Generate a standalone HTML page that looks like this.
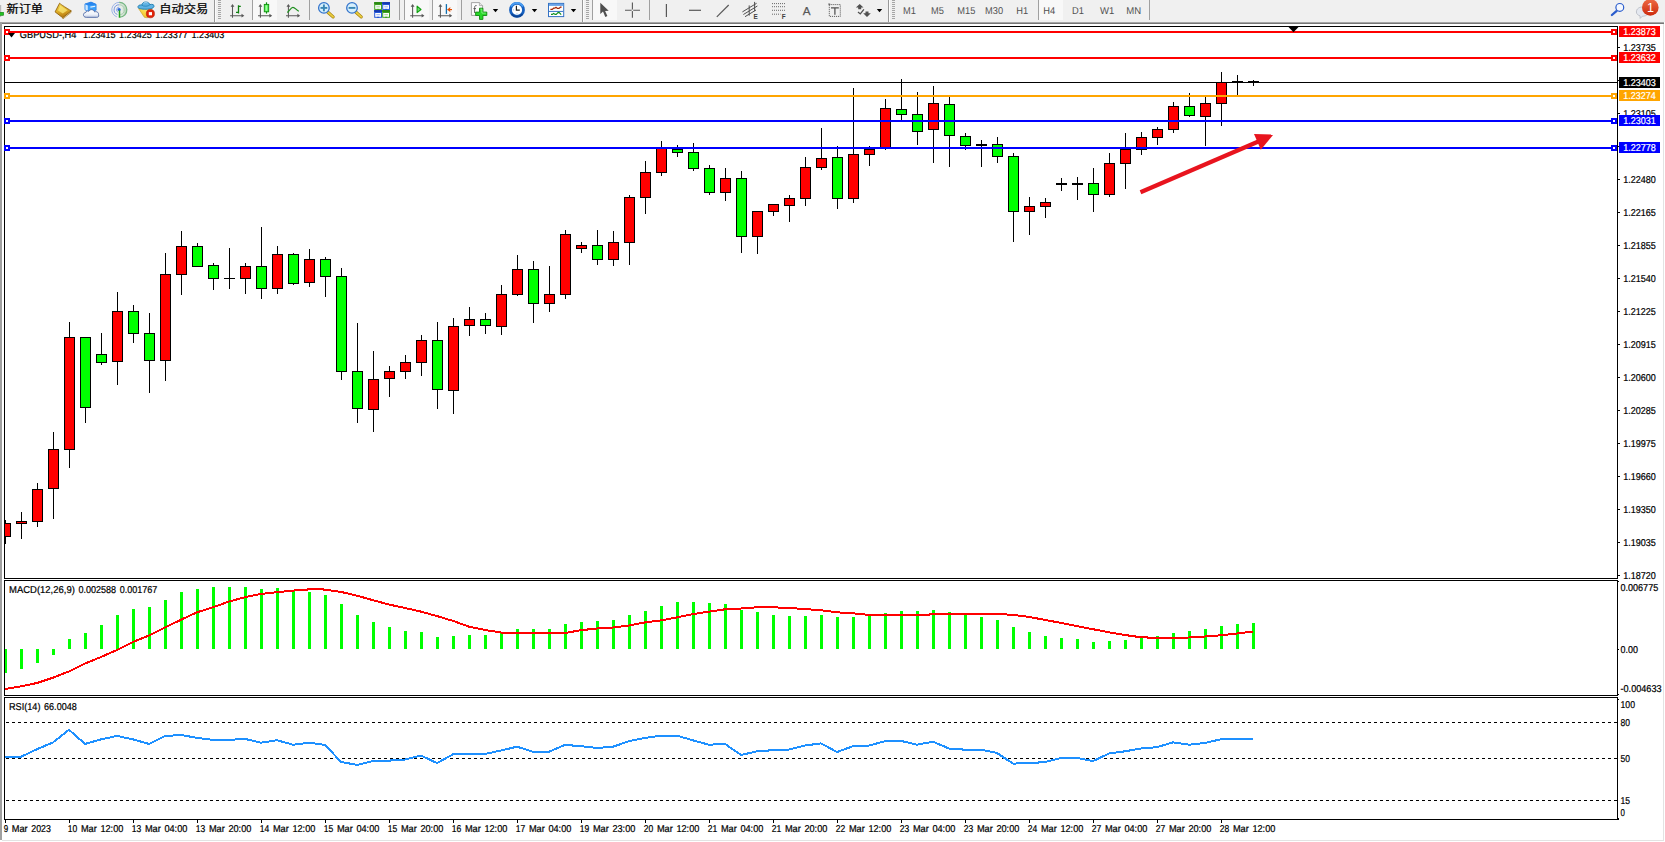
<!DOCTYPE html>
<html lang="zh"><head><meta charset="utf-8"><title>GBPUSD H4</title>
<style>
html,body{margin:0;padding:0;background:#fff;}
body{width:1665px;height:842px;overflow:hidden;position:relative;font-family:"Liberation Sans","Noto Sans CJK SC",sans-serif;}
svg{position:absolute;left:0;top:0;display:block}
.t{font-family:"Liberation Sans",sans-serif;font-size:10.0px;fill:#000;stroke:#000;stroke-width:0.22px;text-rendering:geometricPrecision}
.w{fill:#fff;stroke:#fff}
.cj{font-family:"Liberation Sans","Noto Sans CJK SC",sans-serif;font-size:12px;fill:#000;stroke:#000;stroke-width:0.25px}
.tf{font-family:"Liberation Sans",sans-serif;font-size:10px;fill:#505050;text-rendering:geometricPrecision}
</style></head><body>
<svg width="1665" height="842" viewBox="0 0 1665 842">
<defs><linearGradient id="gb" x1="0" y1="0" x2="0" y2="1"><stop offset="0" stop-color="#ee6a44"/><stop offset="1" stop-color="#cc2a0c"/></linearGradient>
<linearGradient id="gbook" x1="0" y1="0" x2="0.3" y2="1"><stop offset="0" stop-color="#f6de54"/><stop offset="0.55" stop-color="#e0b028"/><stop offset="1" stop-color="#b87c14"/></linearGradient><linearGradient id="gcloud" x1="0" y1="0" x2="0" y2="1"><stop offset="0" stop-color="#ffffff"/><stop offset="0.6" stop-color="#eef2fa"/><stop offset="1" stop-color="#c4cee4"/></linearGradient><linearGradient id="gyel" x1="1" y1="0" x2="0" y2="1"><stop offset="0" stop-color="#fff08a"/><stop offset="0.6" stop-color="#f6d23a"/><stop offset="1" stop-color="#dca020"/></linearGradient><radialGradient id="gsig" cx="0.1" cy="0.5" r="0.95"><stop offset="0" stop-color="#e8f0f0" stop-opacity="0.3"/><stop offset="0.55" stop-color="#c4dcc4" stop-opacity="0.6"/><stop offset="1" stop-color="#7cbc84" stop-opacity="0.85"/></radialGradient><linearGradient id="gbar" x1="0" y1="0" x2="0" y2="1"><stop offset="0" stop-color="#c8c8c8"/><stop offset="0.5" stop-color="#7c7c7c"/><stop offset="1" stop-color="#9a9a9a"/></linearGradient></defs>
<rect x="0" y="0" width="1665" height="842" fill="#fff"/>
<rect x="0" y="0" width="1665" height="22" fill="#f0f0f0"/>
<g shape-rendering="crispEdges">
<rect x="0" y="22" width="1664" height="1" fill="#a6a6a6"/><rect x="0" y="23" width="1664" height="1" fill="#767676"/>
<rect x="0" y="22" width="2" height="818" fill="#a0a0a0"/>
<rect x="1663" y="24" width="1" height="817" fill="#e3e3e3"/>
<rect x="2" y="840" width="1662" height="1" fill="#e3e3e3"/>
<rect x="4" y="26" width="1614" height="1" fill="#000"/>
<rect x="4" y="578" width="1614" height="1" fill="#000"/>
<rect x="4" y="26" width="1" height="553" fill="#000"/>
<rect x="1617" y="26" width="1" height="553" fill="#000"/>
<rect x="4" y="580" width="1614" height="1" fill="#000"/>
<rect x="4" y="695" width="1614" height="1" fill="#000"/>
<rect x="4" y="580" width="1" height="116" fill="#000"/>
<rect x="1617" y="580" width="1" height="116" fill="#000"/>
<rect x="4" y="697" width="1614" height="1" fill="#000"/>
<rect x="4" y="819" width="1615" height="1" fill="#000"/>
<rect x="4" y="697" width="1" height="123" fill="#000"/>
<rect x="1617" y="697" width="1" height="123" fill="#000"/>
</g>
<g shape-rendering="crispEdges">
<rect x="5" y="520" width="1" height="24" fill="#000"/>
<rect x="5" y="523" width="6" height="14" fill="#000"/>
<rect x="5" y="524" width="5" height="12" fill="#ff0000"/>
<rect x="21" y="512" width="1" height="27" fill="#000"/>
<rect x="16" y="521" width="11" height="3" fill="#000"/>
<rect x="17" y="522" width="9" height="1" fill="#ff0000"/>
<rect x="37" y="483" width="1" height="44" fill="#000"/>
<rect x="32" y="489" width="11" height="33" fill="#000"/>
<rect x="33" y="490" width="9" height="31" fill="#ff0000"/>
<rect x="53" y="432" width="1" height="87" fill="#000"/>
<rect x="48" y="449" width="11" height="40" fill="#000"/>
<rect x="49" y="450" width="9" height="38" fill="#ff0000"/>
<rect x="69" y="322" width="1" height="146" fill="#000"/>
<rect x="64" y="337" width="11" height="113" fill="#000"/>
<rect x="65" y="338" width="9" height="111" fill="#ff0000"/>
<rect x="85" y="337" width="1" height="86" fill="#000"/>
<rect x="80" y="337" width="11" height="71" fill="#000"/>
<rect x="81" y="338" width="9" height="69" fill="#00ff00"/>
<rect x="101" y="333" width="1" height="32" fill="#000"/>
<rect x="96" y="354" width="11" height="9" fill="#000"/>
<rect x="97" y="355" width="9" height="7" fill="#00ff00"/>
<rect x="117" y="292" width="1" height="93" fill="#000"/>
<rect x="112" y="311" width="11" height="51" fill="#000"/>
<rect x="113" y="312" width="9" height="49" fill="#ff0000"/>
<rect x="133" y="305" width="1" height="38" fill="#000"/>
<rect x="128" y="311" width="11" height="23" fill="#000"/>
<rect x="129" y="312" width="9" height="21" fill="#00ff00"/>
<rect x="149" y="313" width="1" height="80" fill="#000"/>
<rect x="144" y="333" width="11" height="28" fill="#000"/>
<rect x="145" y="334" width="9" height="26" fill="#00ff00"/>
<rect x="165" y="253" width="1" height="128" fill="#000"/>
<rect x="160" y="274" width="11" height="87" fill="#000"/>
<rect x="161" y="275" width="9" height="85" fill="#ff0000"/>
<rect x="181" y="231" width="1" height="64" fill="#000"/>
<rect x="176" y="246" width="11" height="29" fill="#000"/>
<rect x="177" y="247" width="9" height="27" fill="#ff0000"/>
<rect x="197" y="243" width="1" height="24" fill="#000"/>
<rect x="192" y="246" width="11" height="21" fill="#000"/>
<rect x="193" y="247" width="9" height="19" fill="#00ff00"/>
<rect x="213" y="263" width="1" height="27" fill="#000"/>
<rect x="208" y="265" width="11" height="14" fill="#000"/>
<rect x="209" y="266" width="9" height="12" fill="#00ff00"/>
<rect x="229" y="248" width="1" height="41" fill="#000"/>
<rect x="224" y="278" width="11" height="1" fill="#000"/>
<rect x="245" y="263" width="1" height="31" fill="#000"/>
<rect x="240" y="266" width="11" height="13" fill="#000"/>
<rect x="241" y="267" width="9" height="11" fill="#ff0000"/>
<rect x="261" y="227" width="1" height="72" fill="#000"/>
<rect x="256" y="266" width="11" height="23" fill="#000"/>
<rect x="257" y="267" width="9" height="21" fill="#00ff00"/>
<rect x="277" y="246" width="1" height="48" fill="#000"/>
<rect x="272" y="254" width="11" height="35" fill="#000"/>
<rect x="273" y="255" width="9" height="33" fill="#ff0000"/>
<rect x="293" y="253" width="1" height="32" fill="#000"/>
<rect x="288" y="254" width="11" height="30" fill="#000"/>
<rect x="289" y="255" width="9" height="28" fill="#00ff00"/>
<rect x="309" y="249" width="1" height="38" fill="#000"/>
<rect x="304" y="259" width="11" height="24" fill="#000"/>
<rect x="305" y="260" width="9" height="22" fill="#ff0000"/>
<rect x="325" y="257" width="1" height="40" fill="#000"/>
<rect x="320" y="259" width="11" height="18" fill="#000"/>
<rect x="321" y="260" width="9" height="16" fill="#00ff00"/>
<rect x="341" y="268" width="1" height="112" fill="#000"/>
<rect x="336" y="276" width="11" height="96" fill="#000"/>
<rect x="337" y="277" width="9" height="94" fill="#00ff00"/>
<rect x="357" y="323" width="1" height="100" fill="#000"/>
<rect x="352" y="371" width="11" height="38" fill="#000"/>
<rect x="353" y="372" width="9" height="36" fill="#00ff00"/>
<rect x="373" y="351" width="1" height="81" fill="#000"/>
<rect x="368" y="379" width="11" height="31" fill="#000"/>
<rect x="369" y="380" width="9" height="29" fill="#ff0000"/>
<rect x="389" y="366" width="1" height="31" fill="#000"/>
<rect x="384" y="371" width="11" height="8" fill="#000"/>
<rect x="385" y="372" width="9" height="6" fill="#ff0000"/>
<rect x="405" y="355" width="1" height="24" fill="#000"/>
<rect x="400" y="362" width="11" height="10" fill="#000"/>
<rect x="401" y="363" width="9" height="8" fill="#ff0000"/>
<rect x="421" y="335" width="1" height="41" fill="#000"/>
<rect x="416" y="340" width="11" height="23" fill="#000"/>
<rect x="417" y="341" width="9" height="21" fill="#ff0000"/>
<rect x="437" y="322" width="1" height="87" fill="#000"/>
<rect x="432" y="340" width="11" height="50" fill="#000"/>
<rect x="433" y="341" width="9" height="48" fill="#00ff00"/>
<rect x="453" y="318" width="1" height="96" fill="#000"/>
<rect x="448" y="326" width="11" height="65" fill="#000"/>
<rect x="449" y="327" width="9" height="63" fill="#ff0000"/>
<rect x="469" y="307" width="1" height="29" fill="#000"/>
<rect x="464" y="319" width="11" height="7" fill="#000"/>
<rect x="465" y="320" width="9" height="5" fill="#ff0000"/>
<rect x="485" y="313" width="1" height="21" fill="#000"/>
<rect x="480" y="319" width="11" height="7" fill="#000"/>
<rect x="481" y="320" width="9" height="5" fill="#00ff00"/>
<rect x="501" y="285" width="1" height="50" fill="#000"/>
<rect x="496" y="294" width="11" height="33" fill="#000"/>
<rect x="497" y="295" width="9" height="31" fill="#ff0000"/>
<rect x="517" y="255" width="1" height="41" fill="#000"/>
<rect x="512" y="269" width="11" height="26" fill="#000"/>
<rect x="513" y="270" width="9" height="24" fill="#ff0000"/>
<rect x="533" y="261" width="1" height="62" fill="#000"/>
<rect x="528" y="269" width="11" height="35" fill="#000"/>
<rect x="529" y="270" width="9" height="33" fill="#00ff00"/>
<rect x="549" y="266" width="1" height="46" fill="#000"/>
<rect x="544" y="294" width="11" height="10" fill="#000"/>
<rect x="545" y="295" width="9" height="8" fill="#ff0000"/>
<rect x="565" y="230" width="1" height="69" fill="#000"/>
<rect x="560" y="234" width="11" height="61" fill="#000"/>
<rect x="561" y="235" width="9" height="59" fill="#ff0000"/>
<rect x="581" y="242" width="1" height="11" fill="#000"/>
<rect x="576" y="245" width="11" height="4" fill="#000"/>
<rect x="577" y="246" width="9" height="2" fill="#ff0000"/>
<rect x="597" y="230" width="1" height="35" fill="#000"/>
<rect x="592" y="245" width="11" height="15" fill="#000"/>
<rect x="593" y="246" width="9" height="13" fill="#00ff00"/>
<rect x="613" y="231" width="1" height="35" fill="#000"/>
<rect x="608" y="242" width="11" height="18" fill="#000"/>
<rect x="609" y="243" width="9" height="16" fill="#ff0000"/>
<rect x="629" y="195" width="1" height="70" fill="#000"/>
<rect x="624" y="197" width="11" height="46" fill="#000"/>
<rect x="625" y="198" width="9" height="44" fill="#ff0000"/>
<rect x="645" y="161" width="1" height="53" fill="#000"/>
<rect x="640" y="172" width="11" height="26" fill="#000"/>
<rect x="641" y="173" width="9" height="24" fill="#ff0000"/>
<rect x="661" y="141" width="1" height="35" fill="#000"/>
<rect x="656" y="148" width="11" height="25" fill="#000"/>
<rect x="657" y="149" width="9" height="23" fill="#ff0000"/>
<rect x="677" y="145" width="1" height="12" fill="#000"/>
<rect x="672" y="149" width="11" height="4" fill="#000"/>
<rect x="673" y="150" width="9" height="2" fill="#00ff00"/>
<rect x="693" y="143" width="1" height="28" fill="#000"/>
<rect x="688" y="152" width="11" height="17" fill="#000"/>
<rect x="689" y="153" width="9" height="15" fill="#00ff00"/>
<rect x="709" y="165" width="1" height="30" fill="#000"/>
<rect x="704" y="168" width="11" height="25" fill="#000"/>
<rect x="705" y="169" width="9" height="23" fill="#00ff00"/>
<rect x="725" y="168" width="1" height="33" fill="#000"/>
<rect x="720" y="178" width="11" height="15" fill="#000"/>
<rect x="721" y="179" width="9" height="13" fill="#ff0000"/>
<rect x="741" y="171" width="1" height="82" fill="#000"/>
<rect x="736" y="178" width="11" height="59" fill="#000"/>
<rect x="737" y="179" width="9" height="57" fill="#00ff00"/>
<rect x="757" y="212" width="1" height="42" fill="#000"/>
<rect x="752" y="211" width="11" height="26" fill="#000"/>
<rect x="753" y="212" width="9" height="24" fill="#ff0000"/>
<rect x="773" y="204" width="1" height="12" fill="#000"/>
<rect x="768" y="204" width="11" height="8" fill="#000"/>
<rect x="769" y="205" width="9" height="6" fill="#ff0000"/>
<rect x="789" y="195" width="1" height="27" fill="#000"/>
<rect x="784" y="198" width="11" height="8" fill="#000"/>
<rect x="785" y="199" width="9" height="6" fill="#ff0000"/>
<rect x="805" y="157" width="1" height="49" fill="#000"/>
<rect x="800" y="167" width="11" height="32" fill="#000"/>
<rect x="801" y="168" width="9" height="30" fill="#ff0000"/>
<rect x="821" y="128" width="1" height="42" fill="#000"/>
<rect x="816" y="158" width="11" height="10" fill="#000"/>
<rect x="817" y="159" width="9" height="8" fill="#ff0000"/>
<rect x="837" y="146" width="1" height="63" fill="#000"/>
<rect x="832" y="157" width="11" height="42" fill="#000"/>
<rect x="833" y="158" width="9" height="40" fill="#00ff00"/>
<rect x="853" y="88" width="1" height="115" fill="#000"/>
<rect x="848" y="154" width="11" height="45" fill="#000"/>
<rect x="849" y="155" width="9" height="43" fill="#ff0000"/>
<rect x="869" y="146" width="1" height="20" fill="#000"/>
<rect x="864" y="149" width="11" height="6" fill="#000"/>
<rect x="865" y="150" width="9" height="4" fill="#ff0000"/>
<rect x="885" y="99" width="1" height="51" fill="#000"/>
<rect x="880" y="108" width="11" height="40" fill="#000"/>
<rect x="881" y="109" width="9" height="38" fill="#ff0000"/>
<rect x="901" y="79" width="1" height="41" fill="#000"/>
<rect x="896" y="109" width="11" height="6" fill="#000"/>
<rect x="897" y="110" width="9" height="4" fill="#00ff00"/>
<rect x="917" y="92" width="1" height="53" fill="#000"/>
<rect x="912" y="114" width="11" height="18" fill="#000"/>
<rect x="913" y="115" width="9" height="16" fill="#00ff00"/>
<rect x="933" y="86" width="1" height="77" fill="#000"/>
<rect x="928" y="103" width="11" height="27" fill="#000"/>
<rect x="929" y="104" width="9" height="25" fill="#ff0000"/>
<rect x="949" y="97" width="1" height="70" fill="#000"/>
<rect x="944" y="104" width="11" height="32" fill="#000"/>
<rect x="945" y="105" width="9" height="30" fill="#00ff00"/>
<rect x="965" y="133" width="1" height="17" fill="#000"/>
<rect x="960" y="136" width="11" height="10" fill="#000"/>
<rect x="961" y="137" width="9" height="8" fill="#00ff00"/>
<rect x="981" y="140" width="1" height="27" fill="#000"/>
<rect x="976" y="144" width="11" height="2" fill="#000"/>
<rect x="997" y="137" width="1" height="26" fill="#000"/>
<rect x="992" y="144" width="11" height="13" fill="#000"/>
<rect x="993" y="145" width="9" height="11" fill="#00ff00"/>
<rect x="1013" y="153" width="1" height="89" fill="#000"/>
<rect x="1008" y="156" width="11" height="56" fill="#000"/>
<rect x="1009" y="157" width="9" height="54" fill="#00ff00"/>
<rect x="1029" y="197" width="1" height="38" fill="#000"/>
<rect x="1024" y="206" width="11" height="6" fill="#000"/>
<rect x="1025" y="207" width="9" height="4" fill="#ff0000"/>
<rect x="1045" y="198" width="1" height="20" fill="#000"/>
<rect x="1040" y="202" width="11" height="5" fill="#000"/>
<rect x="1041" y="203" width="9" height="3" fill="#ff0000"/>
<rect x="1061" y="178" width="1" height="13" fill="#000"/>
<rect x="1056" y="183" width="11" height="2" fill="#000"/>
<rect x="1077" y="177" width="1" height="23" fill="#000"/>
<rect x="1072" y="183" width="11" height="2" fill="#000"/>
<rect x="1093" y="168" width="1" height="44" fill="#000"/>
<rect x="1088" y="183" width="11" height="12" fill="#000"/>
<rect x="1089" y="184" width="9" height="10" fill="#00ff00"/>
<rect x="1109" y="153" width="1" height="44" fill="#000"/>
<rect x="1104" y="163" width="11" height="32" fill="#000"/>
<rect x="1105" y="164" width="9" height="30" fill="#ff0000"/>
<rect x="1125" y="133" width="1" height="56" fill="#000"/>
<rect x="1120" y="149" width="11" height="15" fill="#000"/>
<rect x="1121" y="150" width="9" height="13" fill="#ff0000"/>
<rect x="1141" y="132" width="1" height="23" fill="#000"/>
<rect x="1136" y="137" width="11" height="13" fill="#000"/>
<rect x="1137" y="138" width="9" height="11" fill="#ff0000"/>
<rect x="1157" y="127" width="1" height="18" fill="#000"/>
<rect x="1152" y="129" width="11" height="9" fill="#000"/>
<rect x="1153" y="130" width="9" height="7" fill="#ff0000"/>
<rect x="1173" y="102" width="1" height="31" fill="#000"/>
<rect x="1168" y="106" width="11" height="24" fill="#000"/>
<rect x="1169" y="107" width="9" height="22" fill="#ff0000"/>
<rect x="1189" y="93" width="1" height="24" fill="#000"/>
<rect x="1184" y="106" width="11" height="10" fill="#000"/>
<rect x="1185" y="107" width="9" height="8" fill="#00ff00"/>
<rect x="1205" y="97" width="1" height="49" fill="#000"/>
<rect x="1200" y="103" width="11" height="14" fill="#000"/>
<rect x="1201" y="104" width="9" height="12" fill="#ff0000"/>
<rect x="1221" y="72" width="1" height="54" fill="#000"/>
<rect x="1216" y="82" width="11" height="22" fill="#000"/>
<rect x="1217" y="83" width="9" height="20" fill="#ff0000"/>
<rect x="1237" y="75" width="1" height="20" fill="#000"/>
<rect x="1232" y="81" width="11" height="1" fill="#000"/>
<rect x="1253" y="80" width="1" height="6" fill="#000"/>
<rect x="1248" y="81" width="11" height="1" fill="#000"/>
</g>
<text x="19.8" y="37.6" class="t" textLength="56.6" lengthAdjust="spacingAndGlyphs" >GBPUSD-,H4</text>
<text x="82.9" y="37.6" class="t" textLength="32.6" lengthAdjust="spacingAndGlyphs" >1.23415</text>
<text x="119.1" y="37.6" class="t" textLength="32.6" lengthAdjust="spacingAndGlyphs" >1.23425</text>
<text x="155.3" y="37.6" class="t" textLength="32.6" lengthAdjust="spacingAndGlyphs" >1.23377</text>
<text x="191.6" y="37.6" class="t" textLength="32.6" lengthAdjust="spacingAndGlyphs" >1.23403</text>
<g shape-rendering="crispEdges">
<rect x="5" y="31" width="1612" height="2" fill="#ff0000"/>
<rect x="4" y="29" width="6" height="6" fill="#ff0000"/>
<rect x="6" y="31" width="2" height="2" fill="#fff"/>
<rect x="1611" y="29" width="6" height="6" fill="#ff0000"/>
<rect x="1613" y="31" width="2" height="2" fill="#fff"/>
<rect x="5" y="57" width="1612" height="2" fill="#ff0000"/>
<rect x="4" y="55" width="6" height="6" fill="#ff0000"/>
<rect x="6" y="57" width="2" height="2" fill="#fff"/>
<rect x="1611" y="55" width="6" height="6" fill="#ff0000"/>
<rect x="1613" y="57" width="2" height="2" fill="#fff"/>
<rect x="5" y="82" width="1612" height="1" fill="#000000"/>
<rect x="5" y="95" width="1612" height="2" fill="#ffa500"/>
<rect x="4" y="93" width="6" height="6" fill="#ffa500"/>
<rect x="6" y="95" width="2" height="2" fill="#fff"/>
<rect x="1611" y="93" width="6" height="6" fill="#ffa500"/>
<rect x="1613" y="95" width="2" height="2" fill="#fff"/>
<rect x="5" y="120" width="1612" height="2" fill="#0000ff"/>
<rect x="4" y="118" width="6" height="6" fill="#0000ff"/>
<rect x="6" y="120" width="2" height="2" fill="#fff"/>
<rect x="1611" y="118" width="6" height="6" fill="#0000ff"/>
<rect x="1613" y="120" width="2" height="2" fill="#fff"/>
<rect x="5" y="147" width="1612" height="2" fill="#0000ff"/>
<rect x="4" y="145" width="6" height="6" fill="#0000ff"/>
<rect x="6" y="147" width="2" height="2" fill="#fff"/>
<rect x="1611" y="145" width="6" height="6" fill="#0000ff"/>
<rect x="1613" y="147" width="2" height="2" fill="#fff"/>
</g>
<line x1="1140.5" y1="192.3" x2="1258.4" y2="141.5" stroke="#e8141e" stroke-width="4.2"/>
<polygon points="1254.0,134.0 1273.4,134.6 1260.8,149.8" fill="#e8141e"/>
<polygon points="1288.5,27 1298.5,27 1293.5,32.2" fill="#000"/>
<polygon points="8,33 15,33 11.5,37.5" fill="#000"/>
<g shape-rendering="crispEdges">
<rect x="5" y="649" width="2" height="24" fill="#00ff00"/>
<rect x="20" y="649" width="3" height="20" fill="#00ff00"/>
<rect x="36" y="649" width="3" height="14" fill="#00ff00"/>
<rect x="52" y="649" width="3" height="6" fill="#00ff00"/>
<rect x="68" y="639" width="3" height="10" fill="#00ff00"/>
<rect x="84" y="633" width="3" height="16" fill="#00ff00"/>
<rect x="100" y="625" width="3" height="24" fill="#00ff00"/>
<rect x="116" y="615" width="3" height="34" fill="#00ff00"/>
<rect x="132" y="609" width="3" height="40" fill="#00ff00"/>
<rect x="148" y="607" width="3" height="42" fill="#00ff00"/>
<rect x="164" y="600" width="3" height="49" fill="#00ff00"/>
<rect x="180" y="592" width="3" height="57" fill="#00ff00"/>
<rect x="196" y="589" width="3" height="60" fill="#00ff00"/>
<rect x="212" y="587" width="3" height="62" fill="#00ff00"/>
<rect x="228" y="587" width="3" height="62" fill="#00ff00"/>
<rect x="244" y="587" width="3" height="62" fill="#00ff00"/>
<rect x="260" y="589" width="3" height="60" fill="#00ff00"/>
<rect x="276" y="588" width="3" height="61" fill="#00ff00"/>
<rect x="292" y="590" width="3" height="59" fill="#00ff00"/>
<rect x="308" y="592" width="3" height="57" fill="#00ff00"/>
<rect x="324" y="595" width="3" height="54" fill="#00ff00"/>
<rect x="340" y="604" width="3" height="45" fill="#00ff00"/>
<rect x="356" y="615" width="3" height="34" fill="#00ff00"/>
<rect x="372" y="622" width="3" height="27" fill="#00ff00"/>
<rect x="388" y="627" width="3" height="22" fill="#00ff00"/>
<rect x="404" y="631" width="3" height="18" fill="#00ff00"/>
<rect x="420" y="632" width="3" height="17" fill="#00ff00"/>
<rect x="436" y="637" width="3" height="12" fill="#00ff00"/>
<rect x="452" y="636" width="3" height="13" fill="#00ff00"/>
<rect x="468" y="635" width="3" height="14" fill="#00ff00"/>
<rect x="484" y="635" width="3" height="14" fill="#00ff00"/>
<rect x="500" y="632" width="3" height="17" fill="#00ff00"/>
<rect x="516" y="629" width="3" height="20" fill="#00ff00"/>
<rect x="532" y="629" width="3" height="20" fill="#00ff00"/>
<rect x="548" y="629" width="3" height="20" fill="#00ff00"/>
<rect x="564" y="624" width="3" height="25" fill="#00ff00"/>
<rect x="580" y="622" width="3" height="27" fill="#00ff00"/>
<rect x="596" y="621" width="3" height="28" fill="#00ff00"/>
<rect x="612" y="620" width="3" height="29" fill="#00ff00"/>
<rect x="628" y="615" width="3" height="34" fill="#00ff00"/>
<rect x="644" y="611" width="3" height="38" fill="#00ff00"/>
<rect x="660" y="606" width="3" height="43" fill="#00ff00"/>
<rect x="676" y="602" width="3" height="47" fill="#00ff00"/>
<rect x="692" y="602" width="3" height="47" fill="#00ff00"/>
<rect x="708" y="603" width="3" height="46" fill="#00ff00"/>
<rect x="724" y="604" width="3" height="45" fill="#00ff00"/>
<rect x="740" y="610" width="3" height="39" fill="#00ff00"/>
<rect x="756" y="612" width="3" height="37" fill="#00ff00"/>
<rect x="772" y="615" width="3" height="34" fill="#00ff00"/>
<rect x="788" y="616" width="3" height="33" fill="#00ff00"/>
<rect x="804" y="616" width="3" height="33" fill="#00ff00"/>
<rect x="820" y="615" width="3" height="34" fill="#00ff00"/>
<rect x="836" y="617" width="3" height="32" fill="#00ff00"/>
<rect x="852" y="617" width="3" height="32" fill="#00ff00"/>
<rect x="868" y="615" width="3" height="34" fill="#00ff00"/>
<rect x="884" y="613" width="3" height="36" fill="#00ff00"/>
<rect x="900" y="611" width="3" height="38" fill="#00ff00"/>
<rect x="916" y="611" width="3" height="38" fill="#00ff00"/>
<rect x="932" y="610" width="3" height="39" fill="#00ff00"/>
<rect x="948" y="612" width="3" height="37" fill="#00ff00"/>
<rect x="964" y="614" width="3" height="35" fill="#00ff00"/>
<rect x="980" y="617" width="3" height="32" fill="#00ff00"/>
<rect x="996" y="620" width="3" height="29" fill="#00ff00"/>
<rect x="1012" y="627" width="3" height="22" fill="#00ff00"/>
<rect x="1028" y="632" width="3" height="17" fill="#00ff00"/>
<rect x="1044" y="636" width="3" height="13" fill="#00ff00"/>
<rect x="1060" y="638" width="3" height="11" fill="#00ff00"/>
<rect x="1076" y="639" width="3" height="10" fill="#00ff00"/>
<rect x="1092" y="642" width="3" height="7" fill="#00ff00"/>
<rect x="1108" y="641" width="3" height="8" fill="#00ff00"/>
<rect x="1124" y="640" width="3" height="9" fill="#00ff00"/>
<rect x="1140" y="638" width="3" height="11" fill="#00ff00"/>
<rect x="1156" y="636" width="3" height="13" fill="#00ff00"/>
<rect x="1172" y="633" width="3" height="16" fill="#00ff00"/>
<rect x="1188" y="631" width="3" height="18" fill="#00ff00"/>
<rect x="1204" y="629" width="3" height="20" fill="#00ff00"/>
<rect x="1220" y="626" width="3" height="23" fill="#00ff00"/>
<rect x="1236" y="624" width="3" height="25" fill="#00ff00"/>
<rect x="1252" y="623" width="3" height="26" fill="#00ff00"/>
</g>
<polyline points="5.0,689.0 21.0,686.3 37.0,683.0 53.0,677.7 69.0,671.4 85.0,663.5 101.0,657.0 117.0,650.0 133.0,641.9 149.0,635.5 165.0,627.5 181.0,619.7 197.0,612.3 213.0,607.3 229.0,601.5 245.0,597.2 261.0,593.9 277.0,592.2 293.0,590.6 309.0,589.4 317.0,589.1 325.0,589.6 341.0,591.9 357.0,595.7 373.0,600.2 389.0,604.5 405.0,608.0 421.0,611.6 437.0,616.1 453.0,620.9 469.0,626.7 485.0,630.0 501.0,632.5 517.0,633.0 533.0,633.0 549.0,633.0 565.0,633.0 581.0,630.2 597.0,628.5 613.0,627.5 629.0,625.5 645.0,622.4 661.0,620.4 677.0,617.4 693.0,614.1 709.0,611.6 725.0,609.3 741.0,608.5 757.0,607.3 765.0,606.8 773.0,607.3 789.0,608.0 805.0,609.0 821.0,610.3 837.0,612.3 853.0,613.3 869.0,614.9 885.0,614.9 901.0,614.9 917.0,614.9 933.0,614.4 949.0,613.9 965.0,613.9 981.0,613.9 997.0,613.9 1013.0,614.9 1029.0,616.9 1045.0,619.9 1061.0,622.9 1077.0,626.2 1093.0,629.2 1109.0,632.3 1125.0,635.0 1141.0,637.3 1157.0,637.8 1173.0,637.8 1189.0,637.5 1205.0,636.5 1221.0,635.3 1237.0,633.5 1253.0,631.5" fill="none" stroke="#ff0000" stroke-width="2" stroke-linejoin="round" shape-rendering="crispEdges"/>
<g shape-rendering="crispEdges">
<line x1="6" y1="722.5" x2="1617" y2="722.5" stroke="#000" stroke-width="1" stroke-dasharray="3 3"/>
<line x1="6" y1="758.5" x2="1617" y2="758.5" stroke="#000" stroke-width="1" stroke-dasharray="3 3"/>
<line x1="6" y1="800.5" x2="1617" y2="800.5" stroke="#000" stroke-width="1" stroke-dasharray="3 3"/>
</g>
<polyline points="5.0,756.8 21.0,756.8 37.0,749.2 53.0,742.4 69.0,729.8 85.0,743.9 101.0,739.4 117.0,735.9 133.0,739.4 149.0,743.9 165.0,736.1 181.0,734.9 197.0,737.9 213.0,739.9 229.0,739.9 245.0,738.9 261.0,742.7 277.0,740.2 293.0,744.7 309.0,742.7 325.0,744.9 341.0,761.9 357.0,764.9 373.0,761.1 389.0,760.6 405.0,759.6 421.0,755.5 437.0,763.1 453.0,754.3 469.0,754.0 485.0,754.0 501.0,750.5 517.0,746.7 533.0,751.8 549.0,751.8 565.0,744.9 581.0,746.2 597.0,748.0 613.0,746.7 629.0,741.2 645.0,737.9 661.0,735.6 677.0,735.6 693.0,740.4 709.0,744.7 725.0,743.9 741.0,755.0 757.0,751.3 773.0,750.2 789.0,749.5 805.0,745.5 821.0,743.4 837.0,752.0 853.0,746.2 869.0,745.5 885.0,741.2 901.0,740.9 917.0,744.7 933.0,741.7 949.0,748.5 965.0,749.7 981.0,749.7 997.0,753.0 1013.0,763.6 1029.0,763.1 1045.0,762.1 1061.0,758.0 1077.0,758.0 1093.0,761.1 1109.0,753.5 1125.0,751.3 1141.0,748.5 1157.0,747.2 1173.0,742.4 1189.0,744.7 1205.0,743.0 1221.0,739.2 1237.0,738.7 1253.0,738.7" fill="none" stroke="#1e90ff" stroke-width="2" stroke-linejoin="round" shape-rendering="crispEdges"/>
<g shape-rendering="crispEdges">
<rect x="1618" y="47" width="2" height="1" fill="#000"/>
<rect x="1618" y="80" width="2" height="1" fill="#000"/>
<rect x="1618" y="113" width="2" height="1" fill="#000"/>
<rect x="1618" y="146" width="2" height="1" fill="#000"/>
<rect x="1618" y="179" width="2" height="1" fill="#000"/>
<rect x="1618" y="212" width="2" height="1" fill="#000"/>
<rect x="1618" y="245" width="2" height="1" fill="#000"/>
<rect x="1618" y="278" width="2" height="1" fill="#000"/>
<rect x="1618" y="311" width="2" height="1" fill="#000"/>
<rect x="1618" y="344" width="2" height="1" fill="#000"/>
<rect x="1618" y="377" width="2" height="1" fill="#000"/>
<rect x="1618" y="410" width="2" height="1" fill="#000"/>
<rect x="1618" y="443" width="2" height="1" fill="#000"/>
<rect x="1618" y="476" width="2" height="1" fill="#000"/>
<rect x="1618" y="509" width="2" height="1" fill="#000"/>
<rect x="1618" y="542" width="2" height="1" fill="#000"/>
<rect x="1618" y="575" width="2" height="1" fill="#000"/>
<rect x="5" y="820" width="1" height="3" fill="#000"/>
<rect x="69" y="820" width="1" height="3" fill="#000"/>
<rect x="133" y="820" width="1" height="3" fill="#000"/>
<rect x="197" y="820" width="1" height="3" fill="#000"/>
<rect x="261" y="820" width="1" height="3" fill="#000"/>
<rect x="325" y="820" width="1" height="3" fill="#000"/>
<rect x="389" y="820" width="1" height="3" fill="#000"/>
<rect x="453" y="820" width="1" height="3" fill="#000"/>
<rect x="517" y="820" width="1" height="3" fill="#000"/>
<rect x="581" y="820" width="1" height="3" fill="#000"/>
<rect x="645" y="820" width="1" height="3" fill="#000"/>
<rect x="709" y="820" width="1" height="3" fill="#000"/>
<rect x="773" y="820" width="1" height="3" fill="#000"/>
<rect x="837" y="820" width="1" height="3" fill="#000"/>
<rect x="901" y="820" width="1" height="3" fill="#000"/>
<rect x="965" y="820" width="1" height="3" fill="#000"/>
<rect x="1029" y="820" width="1" height="3" fill="#000"/>
<rect x="1093" y="820" width="1" height="3" fill="#000"/>
<rect x="1157" y="820" width="1" height="3" fill="#000"/>
<rect x="1221" y="820" width="1" height="3" fill="#000"/>
<rect x="1618" y="649" width="1" height="1" fill="#000"/>
<rect x="1618" y="818" width="1" height="1" fill="#000"/>
<rect x="1618" y="694" width="1" height="1" fill="#000"/>
<rect x="1618" y="699" width="1" height="1" fill="#000"/>
<rect x="1618" y="581" width="1" height="1" fill="#000"/>
</g>
<text x="1623.3" y="50.8" class="t" textLength="32.6" lengthAdjust="spacingAndGlyphs" >1.23735</text>
<text x="1623.3" y="83.8" class="t" textLength="32.6" lengthAdjust="spacingAndGlyphs" >1.23420</text>
<text x="1623.3" y="116.8" class="t" textLength="32.6" lengthAdjust="spacingAndGlyphs" >1.23105</text>
<text x="1623.3" y="149.8" class="t" textLength="32.6" lengthAdjust="spacingAndGlyphs" >1.22795</text>
<text x="1623.3" y="182.8" class="t" textLength="32.6" lengthAdjust="spacingAndGlyphs" >1.22480</text>
<text x="1623.3" y="215.8" class="t" textLength="32.6" lengthAdjust="spacingAndGlyphs" >1.22165</text>
<text x="1623.3" y="248.8" class="t" textLength="32.6" lengthAdjust="spacingAndGlyphs" >1.21855</text>
<text x="1623.3" y="281.8" class="t" textLength="32.6" lengthAdjust="spacingAndGlyphs" >1.21540</text>
<text x="1623.3" y="314.8" class="t" textLength="32.6" lengthAdjust="spacingAndGlyphs" >1.21225</text>
<text x="1623.3" y="347.8" class="t" textLength="32.6" lengthAdjust="spacingAndGlyphs" >1.20915</text>
<text x="1623.3" y="380.8" class="t" textLength="32.6" lengthAdjust="spacingAndGlyphs" >1.20600</text>
<text x="1623.3" y="413.8" class="t" textLength="32.6" lengthAdjust="spacingAndGlyphs" >1.20285</text>
<text x="1623.3" y="446.8" class="t" textLength="32.6" lengthAdjust="spacingAndGlyphs" >1.19975</text>
<text x="1623.3" y="479.8" class="t" textLength="32.6" lengthAdjust="spacingAndGlyphs" >1.19660</text>
<text x="1623.3" y="512.8" class="t" textLength="32.6" lengthAdjust="spacingAndGlyphs" >1.19350</text>
<text x="1623.3" y="545.8" class="t" textLength="32.6" lengthAdjust="spacingAndGlyphs" >1.19035</text>
<text x="1623.3" y="578.8" class="t" textLength="32.6" lengthAdjust="spacingAndGlyphs" >1.18720</text>
<g shape-rendering="crispEdges">
<rect x="1619" y="26" width="41" height="11" fill="#ff0000"/>
<rect x="1619" y="52" width="41" height="11" fill="#ff0000"/>
<rect x="1619" y="77" width="41" height="11" fill="#000000"/>
<rect x="1619" y="90" width="41" height="11" fill="#ffa500"/>
<rect x="1619" y="115" width="41" height="11" fill="#0000ff"/>
<rect x="1619" y="142" width="41" height="11" fill="#0000ff"/>
</g>
<text x="1623.3" y="35.1" class="t w" textLength="32.6" lengthAdjust="spacingAndGlyphs" >1.23873</text>
<text x="1623.3" y="61.1" class="t w" textLength="32.6" lengthAdjust="spacingAndGlyphs" >1.23632</text>
<text x="1623.3" y="86.1" class="t w" textLength="32.6" lengthAdjust="spacingAndGlyphs" >1.23403</text>
<text x="1623.3" y="99.1" class="t w" textLength="32.6" lengthAdjust="spacingAndGlyphs" >1.23274</text>
<text x="1623.3" y="124.1" class="t w" textLength="32.6" lengthAdjust="spacingAndGlyphs" >1.23031</text>
<text x="1623.3" y="151.1" class="t w" textLength="32.6" lengthAdjust="spacingAndGlyphs" >1.22778</text>
<text x="1620.5" y="591.0" class="t" textLength="37.7" lengthAdjust="spacingAndGlyphs" >0.006775</text>
<text x="1620.5" y="653.0" class="t" textLength="17.4" lengthAdjust="spacingAndGlyphs" >0.00</text>
<text x="1620.5" y="692.0" class="t" textLength="41.1" lengthAdjust="spacingAndGlyphs" >-0.004633</text>
<text x="1620.5" y="708.0" class="t" textLength="14.5" lengthAdjust="spacingAndGlyphs" >100</text>
<text x="1620.5" y="726.0" class="t" textLength="9.5" lengthAdjust="spacingAndGlyphs" >80</text>
<text x="1620.5" y="762.0" class="t" textLength="9.5" lengthAdjust="spacingAndGlyphs" >50</text>
<text x="1620.5" y="804.0" class="t" textLength="9.5" lengthAdjust="spacingAndGlyphs" >15</text>
<text x="1620.5" y="816.0" class="t" textLength="4.4" lengthAdjust="spacingAndGlyphs" >0</text>
<text x="3.8" y="832.2" class="t" textLength="4.4" lengthAdjust="spacingAndGlyphs" >9</text>
<text x="11.8" y="832.2" class="t" textLength="15.9" lengthAdjust="spacingAndGlyphs" >Mar</text>
<text x="31.3" y="832.2" class="t" textLength="19.6" lengthAdjust="spacingAndGlyphs" >2023</text>
<text x="67.8" y="832.2" class="t" textLength="9.5" lengthAdjust="spacingAndGlyphs" >10</text>
<text x="80.9" y="832.2" class="t" textLength="15.9" lengthAdjust="spacingAndGlyphs" >Mar</text>
<text x="100.4" y="832.2" class="t" textLength="23.0" lengthAdjust="spacingAndGlyphs" >12:00</text>
<text x="131.8" y="832.2" class="t" textLength="9.5" lengthAdjust="spacingAndGlyphs" >13</text>
<text x="144.9" y="832.2" class="t" textLength="15.9" lengthAdjust="spacingAndGlyphs" >Mar</text>
<text x="164.4" y="832.2" class="t" textLength="23.0" lengthAdjust="spacingAndGlyphs" >04:00</text>
<text x="195.8" y="832.2" class="t" textLength="9.5" lengthAdjust="spacingAndGlyphs" >13</text>
<text x="208.9" y="832.2" class="t" textLength="15.9" lengthAdjust="spacingAndGlyphs" >Mar</text>
<text x="228.4" y="832.2" class="t" textLength="23.0" lengthAdjust="spacingAndGlyphs" >20:00</text>
<text x="259.8" y="832.2" class="t" textLength="9.5" lengthAdjust="spacingAndGlyphs" >14</text>
<text x="272.9" y="832.2" class="t" textLength="15.9" lengthAdjust="spacingAndGlyphs" >Mar</text>
<text x="292.4" y="832.2" class="t" textLength="23.0" lengthAdjust="spacingAndGlyphs" >12:00</text>
<text x="323.8" y="832.2" class="t" textLength="9.5" lengthAdjust="spacingAndGlyphs" >15</text>
<text x="336.9" y="832.2" class="t" textLength="15.9" lengthAdjust="spacingAndGlyphs" >Mar</text>
<text x="356.4" y="832.2" class="t" textLength="23.0" lengthAdjust="spacingAndGlyphs" >04:00</text>
<text x="387.8" y="832.2" class="t" textLength="9.5" lengthAdjust="spacingAndGlyphs" >15</text>
<text x="400.9" y="832.2" class="t" textLength="15.9" lengthAdjust="spacingAndGlyphs" >Mar</text>
<text x="420.4" y="832.2" class="t" textLength="23.0" lengthAdjust="spacingAndGlyphs" >20:00</text>
<text x="451.8" y="832.2" class="t" textLength="9.5" lengthAdjust="spacingAndGlyphs" >16</text>
<text x="464.9" y="832.2" class="t" textLength="15.9" lengthAdjust="spacingAndGlyphs" >Mar</text>
<text x="484.4" y="832.2" class="t" textLength="23.0" lengthAdjust="spacingAndGlyphs" >12:00</text>
<text x="515.8" y="832.2" class="t" textLength="9.5" lengthAdjust="spacingAndGlyphs" >17</text>
<text x="528.9" y="832.2" class="t" textLength="15.9" lengthAdjust="spacingAndGlyphs" >Mar</text>
<text x="548.4" y="832.2" class="t" textLength="23.0" lengthAdjust="spacingAndGlyphs" >04:00</text>
<text x="579.8" y="832.2" class="t" textLength="9.5" lengthAdjust="spacingAndGlyphs" >19</text>
<text x="592.9" y="832.2" class="t" textLength="15.9" lengthAdjust="spacingAndGlyphs" >Mar</text>
<text x="612.4" y="832.2" class="t" textLength="23.0" lengthAdjust="spacingAndGlyphs" >23:00</text>
<text x="643.8" y="832.2" class="t" textLength="9.5" lengthAdjust="spacingAndGlyphs" >20</text>
<text x="656.9" y="832.2" class="t" textLength="15.9" lengthAdjust="spacingAndGlyphs" >Mar</text>
<text x="676.4" y="832.2" class="t" textLength="23.0" lengthAdjust="spacingAndGlyphs" >12:00</text>
<text x="707.8" y="832.2" class="t" textLength="9.5" lengthAdjust="spacingAndGlyphs" >21</text>
<text x="720.9" y="832.2" class="t" textLength="15.9" lengthAdjust="spacingAndGlyphs" >Mar</text>
<text x="740.4" y="832.2" class="t" textLength="23.0" lengthAdjust="spacingAndGlyphs" >04:00</text>
<text x="771.8" y="832.2" class="t" textLength="9.5" lengthAdjust="spacingAndGlyphs" >21</text>
<text x="784.9" y="832.2" class="t" textLength="15.9" lengthAdjust="spacingAndGlyphs" >Mar</text>
<text x="804.4" y="832.2" class="t" textLength="23.0" lengthAdjust="spacingAndGlyphs" >20:00</text>
<text x="835.8" y="832.2" class="t" textLength="9.5" lengthAdjust="spacingAndGlyphs" >22</text>
<text x="848.9" y="832.2" class="t" textLength="15.9" lengthAdjust="spacingAndGlyphs" >Mar</text>
<text x="868.4" y="832.2" class="t" textLength="23.0" lengthAdjust="spacingAndGlyphs" >12:00</text>
<text x="899.8" y="832.2" class="t" textLength="9.5" lengthAdjust="spacingAndGlyphs" >23</text>
<text x="912.9" y="832.2" class="t" textLength="15.9" lengthAdjust="spacingAndGlyphs" >Mar</text>
<text x="932.4" y="832.2" class="t" textLength="23.0" lengthAdjust="spacingAndGlyphs" >04:00</text>
<text x="963.8" y="832.2" class="t" textLength="9.5" lengthAdjust="spacingAndGlyphs" >23</text>
<text x="976.9" y="832.2" class="t" textLength="15.9" lengthAdjust="spacingAndGlyphs" >Mar</text>
<text x="996.4" y="832.2" class="t" textLength="23.0" lengthAdjust="spacingAndGlyphs" >20:00</text>
<text x="1027.8" y="832.2" class="t" textLength="9.5" lengthAdjust="spacingAndGlyphs" >24</text>
<text x="1040.9" y="832.2" class="t" textLength="15.9" lengthAdjust="spacingAndGlyphs" >Mar</text>
<text x="1060.4" y="832.2" class="t" textLength="23.0" lengthAdjust="spacingAndGlyphs" >12:00</text>
<text x="1091.8" y="832.2" class="t" textLength="9.5" lengthAdjust="spacingAndGlyphs" >27</text>
<text x="1104.9" y="832.2" class="t" textLength="15.9" lengthAdjust="spacingAndGlyphs" >Mar</text>
<text x="1124.4" y="832.2" class="t" textLength="23.0" lengthAdjust="spacingAndGlyphs" >04:00</text>
<text x="1155.8" y="832.2" class="t" textLength="9.5" lengthAdjust="spacingAndGlyphs" >27</text>
<text x="1168.9" y="832.2" class="t" textLength="15.9" lengthAdjust="spacingAndGlyphs" >Mar</text>
<text x="1188.4" y="832.2" class="t" textLength="23.0" lengthAdjust="spacingAndGlyphs" >20:00</text>
<text x="1219.8" y="832.2" class="t" textLength="9.5" lengthAdjust="spacingAndGlyphs" >28</text>
<text x="1232.9" y="832.2" class="t" textLength="15.9" lengthAdjust="spacingAndGlyphs" >Mar</text>
<text x="1252.4" y="832.2" class="t" textLength="23.0" lengthAdjust="spacingAndGlyphs" >12:00</text>
<text x="9.0" y="593.2" class="t" textLength="65.8" lengthAdjust="spacingAndGlyphs" >MACD(12,26,9)</text>
<text x="78.4" y="593.2" class="t" textLength="37.7" lengthAdjust="spacingAndGlyphs" >0.002588</text>
<text x="119.7" y="593.2" class="t" textLength="37.7" lengthAdjust="spacingAndGlyphs" >0.001767</text>
<text x="9.0" y="710.0" class="t" textLength="31.5" lengthAdjust="spacingAndGlyphs" >RSI(14)</text>
<text x="44.1" y="710.0" class="t" textLength="32.6" lengthAdjust="spacingAndGlyphs" >66.0048</text>
<rect x="253" y="0" width="24" height="20" fill="#f8f8f8"/>
<rect x="405" y="0" width="24" height="20" fill="#f8f8f8"/>
<rect x="433" y="0" width="24" height="20" fill="#f8f8f8"/>
<rect x="593" y="0" width="24" height="20" fill="#f8f8f8"/>
<rect x="1039" y="0" width="24" height="20" fill="#f8f8f8"/>
<g shape-rendering="crispEdges">
<rect x="252" y="0" width="1" height="20" fill="#a0a0a0"/>
<rect x="309" y="0" width="1" height="20" fill="#a0a0a0"/>
<rect x="399" y="0" width="1" height="20" fill="#a0a0a0"/>
<rect x="404" y="0" width="1" height="20" fill="#a0a0a0"/>
<rect x="432" y="0" width="1" height="20" fill="#a0a0a0"/>
<rect x="461" y="0" width="1" height="20" fill="#a0a0a0"/>
<rect x="592" y="0" width="1" height="20" fill="#a0a0a0"/>
<rect x="649" y="0" width="1" height="20" fill="#a0a0a0"/>
<rect x="1038" y="0" width="1" height="20" fill="#a0a0a0"/>
<rect x="1149" y="0" width="1" height="20" fill="#a0a0a0"/>
<rect x="214" y="0" width="1" height="22" fill="#989898"/>
<rect x="215" y="0" width="1" height="22" fill="#fcfcfc"/>
<rect x="582" y="0" width="1" height="22" fill="#989898"/>
<rect x="583" y="0" width="1" height="22" fill="#fcfcfc"/>
<rect x="888" y="0" width="1" height="22" fill="#989898"/>
<rect x="889" y="0" width="1" height="22" fill="#fcfcfc"/>
<rect x="218" y="0" width="3" height="1" fill="#a6a6a6"/>
<rect x="218" y="2" width="3" height="1" fill="#a6a6a6"/>
<rect x="218" y="4" width="3" height="1" fill="#a6a6a6"/>
<rect x="218" y="6" width="3" height="1" fill="#a6a6a6"/>
<rect x="218" y="8" width="3" height="1" fill="#a6a6a6"/>
<rect x="218" y="10" width="3" height="1" fill="#a6a6a6"/>
<rect x="218" y="12" width="3" height="1" fill="#a6a6a6"/>
<rect x="218" y="14" width="3" height="1" fill="#a6a6a6"/>
<rect x="218" y="16" width="3" height="1" fill="#a6a6a6"/>
<rect x="218" y="18" width="3" height="1" fill="#a6a6a6"/>
<rect x="586" y="0" width="3" height="1" fill="#a6a6a6"/>
<rect x="586" y="2" width="3" height="1" fill="#a6a6a6"/>
<rect x="586" y="4" width="3" height="1" fill="#a6a6a6"/>
<rect x="586" y="6" width="3" height="1" fill="#a6a6a6"/>
<rect x="586" y="8" width="3" height="1" fill="#a6a6a6"/>
<rect x="586" y="10" width="3" height="1" fill="#a6a6a6"/>
<rect x="586" y="12" width="3" height="1" fill="#a6a6a6"/>
<rect x="586" y="14" width="3" height="1" fill="#a6a6a6"/>
<rect x="586" y="16" width="3" height="1" fill="#a6a6a6"/>
<rect x="586" y="18" width="3" height="1" fill="#a6a6a6"/>
<rect x="892" y="0" width="3" height="1" fill="#a6a6a6"/>
<rect x="892" y="2" width="3" height="1" fill="#a6a6a6"/>
<rect x="892" y="4" width="3" height="1" fill="#a6a6a6"/>
<rect x="892" y="6" width="3" height="1" fill="#a6a6a6"/>
<rect x="892" y="8" width="3" height="1" fill="#a6a6a6"/>
<rect x="892" y="10" width="3" height="1" fill="#a6a6a6"/>
<rect x="892" y="12" width="3" height="1" fill="#a6a6a6"/>
<rect x="892" y="14" width="3" height="1" fill="#a6a6a6"/>
<rect x="892" y="16" width="3" height="1" fill="#a6a6a6"/>
<rect x="892" y="18" width="3" height="1" fill="#a6a6a6"/>
</g>
<rect x="0" y="5" width="1.2" height="12" fill="#b8b8b8"/>
<rect x="-1" y="12.3" width="4.6" height="3" fill="#22c022" stroke="#108010" stroke-width="0.6"/>
<text transform="translate(6.4,13.0) scale(1.02,0.93)" class="cj">新订单</text>
<text transform="translate(159.3,13.0) scale(1.02,0.93)" class="cj">自动交易</text>
<g><polygon points="62.6,17.7 71.2,10.9 71,12.5 63,18.8" fill="#ecdcae" stroke="#9a6a10" stroke-width="0.6"/>
<path d="M59.6,3.2 C61,4.6 67,8.4 71.2,10.8 L62.7,17.7 L55.1,11.9 Z" fill="url(#gbook)" stroke="#94640c" stroke-width="0.9" stroke-linejoin="round"/>
<path d="M60.2,5.6 L67.6,10.2 L62.8,13.6 L58,10.6 Z" fill="#fae878" opacity="0.75"/></g>
<g stroke-linejoin="round">
<polygon points="85.1,3.9 91,2.1 96.1,4.3 96.1,10.2 88.2,11.6 85.1,9.7" fill="#2b8ef2" stroke="#1c74dc" stroke-width="0.7"/>
<polygon points="85.1,3.9 88.2,5.3 88.2,11.6 85.1,9.7" fill="#cfe9ff" stroke="#2b8ef2" stroke-width="0.6"/>
<polygon points="85.1,3.9 91,2.1 96.1,4.3 88.2,5.3" fill="#2a86ee"/>
<polygon points="88.6,5.7 95.7,4.8 95.7,10 88.6,11.2" fill="#3aa0fa"/>
<path d="M90.4,7.1 L95.2,6.2" stroke="#e8f4ff" stroke-width="1.1"/>
<path d="M86.2,17.3 c-3.6,0 -3.6,-4.6 -0.4,-4.8 c0.2,-1.6 2,-2 3,-1.2 c1,-2.4 5,-2.2 5.8,0.6 c2.4,-1 4.6,1.2 3.8,3 c1,1.4 -0.2,2.4 -1.6,2.4 z" fill="url(#gcloud)" stroke="#5870a8" stroke-width="1"/>
</g>
<g fill="none">
<path d="M119.2,2.4 A7.4,7.4 0 0 1 119.6,17.2 L119.6,9.8 Z" fill="url(#gsig)" stroke="none"/>
<path d="M119.2,2.4 a7.4,7.4 0 0 0 -2.4,14.4" stroke="#7c9ce0" stroke-width="0.9" opacity="0.8"/>
<path d="M119.2,4.8 a5,5 0 0 0 -1.8,9.7" stroke="#5c84dc" stroke-width="0.9" opacity="0.9"/>
<path d="M119.2,7.1 a2.7,2.7 0 0 0 -1,5.2" stroke="#4a78dc" stroke-width="0.8" opacity="0.7"/>
<path d="M119.2,2.4 a7.4,7.4 0 0 1 0.6,14.8" stroke="#58a868" stroke-width="1.1" opacity="0.8"/>
<path d="M119.2,4.8 a5,5 0 0 1 1,9.9" stroke="#8cbc98" stroke-width="0.9" opacity="0.7"/>
<circle cx="119.1" cy="9.5" r="1.6" fill="#2c64d8" stroke="none"/>
<path d="M119.5,10.2 V17.7" stroke="#1ea01e" stroke-width="1.5"/></g>
<g stroke-linejoin="round">
<polygon points="138.6,8.6 152,8.6 150.6,12 147.4,17.8 144.4,17.3" fill="url(#gyel)" stroke="#c8981a" stroke-width="0.6"/>
<path d="M138,7.4 c-0.4,-1.8 1.4,-2.8 3.8,-2.4 c0.4,-1.8 1.6,-3 4,-3 c2.4,0 3.6,1.2 4,2.6 c2.6,-0.8 4.6,0.2 4.2,1.8 c-0.4,1.8 -3.4,2.8 -8,2.8 c-4.6,0 -7.6,-0.6 -8,-1.8 z" fill="#5eb2e4" stroke="#1c7cae" stroke-width="0.9"/>
<path d="M141.9,5.2 c1.2,1.4 6.6,1.4 7.9,-0.4" stroke="#1c7cae" stroke-width="0.7" fill="none"/>
<path d="M143.6,3.2 c1,-0.9 3,-0.9 4,-0.2" stroke="#b4e0f8" stroke-width="0.9" fill="none"/>
<circle cx="150.4" cy="13.7" r="4.1" fill="#e02408" stroke="#b41c08" stroke-width="0.6"/>
<rect x="148.8" y="12.1" width="3.2" height="3.2" fill="#fff"/></g>
<g stroke="#585858" stroke-width="1.05" fill="#585858">
<path d="M232.5,5 V17.8 M230.1,15.7 H243.1" fill="none"/>
<polygon points="232.5,4 230.6,6.8 234.4,6.8" stroke="none"/>
<polygon points="244.3,15.7 241.5,13.8 241.5,17.6" stroke="none"/>
</g>
<path d="M238.5,5.3 V13.6 M238.5,6.4 H240.8 M236,12.4 H238.5" stroke="#108010" stroke-width="1.3" fill="none"/>
<g stroke="#585858" stroke-width="1.05" fill="#585858">
<path d="M260.4,5 V17.8 M258.0,15.7 H271.0" fill="none"/>
<polygon points="260.4,4 258.5,6.8 262.3,6.8" stroke="none"/>
<polygon points="272.2,15.7 269.4,13.8 269.4,17.6" stroke="none"/>
</g>
<path d="M266.5,2.3 V13.6" stroke="#109010" stroke-width="1.2"/>
<rect x="264.3" y="4.4" width="4.4" height="7.4" fill="#50f050" stroke="#109010" stroke-width="0.9"/>
<rect x="265.6" y="5.4" width="1.6" height="5.4" fill="#a0ffa0"/>
<g stroke="#585858" stroke-width="1.05" fill="#585858">
<path d="M288.4,5 V17.8 M286.0,15.7 H299.0" fill="none"/>
<polygon points="288.4,4 286.5,6.8 290.3,6.8" stroke="none"/>
<polygon points="300.2,15.7 297.4,13.8 297.4,17.6" stroke="none"/>
</g>
<path d="M287.3,12.6 C289.5,11 291,7.4 292.9,7.3 C294.8,7.2 296.6,10.4 298.9,11.2" stroke="#209020" stroke-width="1.2" fill="none"/>
<g>
<path d="M327.9,12.2 L333.1,16.9" stroke="#a88410" stroke-width="3.2" stroke-linecap="round"/>
<path d="M327.9,12.2 L333.1,16.9" stroke="#ecd040" stroke-width="1.7" stroke-linecap="round"/>
<circle cx="323.9" cy="7.9" r="5.3" fill="#d6effc" stroke="#3474cc" stroke-width="1.3"/>
<path d="M320.5,7.9 H327.3" stroke="#3a86b4" stroke-width="1.9"/>
<path d="M323.9,4.5 V11.3" stroke="#3a86b4" stroke-width="1.9"/>
</g>
<g>
<path d="M356.0,12.2 L361.2,16.9" stroke="#a88410" stroke-width="3.2" stroke-linecap="round"/>
<path d="M356.0,12.2 L361.2,16.9" stroke="#ecd040" stroke-width="1.7" stroke-linecap="round"/>
<circle cx="352.0" cy="7.9" r="5.3" fill="#d6effc" stroke="#3474cc" stroke-width="1.3"/>
<path d="M348.6,7.9 H355.4" stroke="#3a86b4" stroke-width="1.9"/>
</g>
<g>
<rect x="374.2" y="2.1" width="7.8" height="7.8" fill="#3ea222"/>
<rect x="374.2" y="2.1" width="7.8" height="2" fill="#2a8812"/>
<rect x="375.2" y="5.1" width="5.8" height="3.8" fill="#fff"/>
<rect x="376.3" y="6.4" width="3.6" height="0.9" fill="#3ea222" opacity="0.55"/>
<rect x="377.1" y="8.9" width="2" height="1.2" fill="#3ea222"/>
<rect x="382.2" y="2.1" width="7.8" height="7.8" fill="#2458d8"/>
<rect x="382.2" y="2.1" width="7.8" height="2" fill="#1438b0"/>
<rect x="383.2" y="5.1" width="5.8" height="3.8" fill="#fff"/>
<rect x="384.3" y="6.4" width="3.6" height="0.9" fill="#2458d8" opacity="0.55"/>
<rect x="385.1" y="8.9" width="2" height="1.2" fill="#2458d8"/>
<rect x="374.2" y="10.0" width="7.8" height="7.8" fill="#2458d8"/>
<rect x="374.2" y="10.0" width="7.8" height="2" fill="#1438b0"/>
<rect x="375.2" y="13.0" width="5.8" height="3.8" fill="#fff"/>
<rect x="376.3" y="14.3" width="3.6" height="0.9" fill="#2458d8" opacity="0.55"/>
<rect x="377.1" y="16.8" width="2" height="1.2" fill="#2458d8"/>
<rect x="382.2" y="10.0" width="7.8" height="7.8" fill="#3ea222"/>
<rect x="382.2" y="10.0" width="7.8" height="2" fill="#2a8812"/>
<rect x="383.2" y="13.0" width="5.8" height="3.8" fill="#fff"/>
<rect x="384.3" y="14.3" width="3.6" height="0.9" fill="#3ea222" opacity="0.55"/>
<rect x="385.1" y="16.8" width="2" height="1.2" fill="#3ea222"/>
</g>
<g stroke="#585858" stroke-width="1.05" fill="#585858">
<path d="M412.6,5 V17.8 M410.2,15.7 H423.2" fill="none"/>
<polygon points="412.6,4 410.7,6.8 414.5,6.8" stroke="none"/>
<polygon points="424.4,15.7 421.6,13.8 421.6,17.6" stroke="none"/>
</g>
<polygon points="417.1,6.2 417.1,12.6 421,9.5" fill="#70e070" stroke="#10a010" stroke-width="1.1" stroke-linejoin="round"/>
<g stroke="#585858" stroke-width="1.05" fill="#585858">
<path d="M440.4,5 V17.8 M438.0,15.7 H451.0" fill="none"/>
<polygon points="440.4,4 438.5,6.8 442.3,6.8" stroke="none"/>
<polygon points="452.2,15.7 449.4,13.8 449.4,17.6" stroke="none"/>
</g>
<path d="M446.4,4.1 V13.9" stroke="#1070b0" stroke-width="1.3"/>
<path d="M447.6,9.6 H452" stroke="#e05000" stroke-width="1.2"/>
<polygon points="447.3,9.6 450.4,6.9 450,9.6 450.4,12.3" fill="#e05000"/>
<polygon points="492.8,9 498.2,9 495.5,12.2" fill="#000"/>
<polygon points="531.8,9 537.2,9 534.5,12.2" fill="#000"/>
<polygon points="570.8,9 576.2,9 573.5,12.2" fill="#000"/>
<polygon points="876.8,9 882.2,9 879.5,12.2" fill="#000"/>
<g><path d="M471.4,2.6 h8 l3.2,3 v9.8 h-11.2 z" fill="#fbfbfb" stroke="#9a9a9a" stroke-width="0.9"/>
<path d="M479.4,2.6 v3 h3.2" fill="#e4e4e4" stroke="#9a9a9a" stroke-width="0.7"/>
<path d="M476.6,5.6 c-1.6,-0.4 -2,0.8 -2,2 v5.4 M473.4,8.6 h2.6" stroke="#505050" stroke-width="0.9" fill="none"/>
<path d="M479.5,8.2 h3.4 v3.9 h3.9 v3.4 h-3.9 v3.9 h-3.4 v-3.9 h-3.9 v-3.4 h3.9 z" fill="#28d628" stroke="#0f8a0f" stroke-width="0.9" stroke-linejoin="round"/>
<path d="M480.5,9.2 h1.4 v3.9 h3.9" stroke="#90f890" stroke-width="0.8" fill="none"/></g>
<g><circle cx="517" cy="9.9" r="6.5" fill="#fff" stroke="#1660c0" stroke-width="2.8"/>
<path d="M511,6.6 a6.9,6.9 0 0 1 12,0" stroke="#4a9cf0" stroke-width="2" fill="none"/>
<path d="M511.6,14 a6.8,6.8 0 0 0 10.8,0" stroke="#0c4494" stroke-width="1.8" fill="none"/>
<path d="M516.4,5.8 V10.1 H519.8" stroke="#202020" stroke-width="1.2" fill="none"/>
<path d="M517,13.2 v1.2 M512.8,9.9 h1.2" stroke="#90b8e8" stroke-width="0.9"/></g>
<g><rect x="548.5" y="3.4" width="15.2" height="13.2" fill="#fff" stroke="#3472c4" stroke-width="1"/>
<rect x="549" y="3.9" width="14.2" height="2" fill="#6aa4e8"/>
<rect x="549" y="10.9" width="14.2" height="1.1" fill="#4a82cc"/>
<path d="M550.4,9.4 h1.8 l1.4,-1.2 h1.2 l1.2,-1 l1.4,1.2 h1.6 l1.4,-1.2 h1.2" stroke="#a42808" stroke-width="1.2" fill="none"/>
<path d="M551,14.4 h1.4 l1.2,-1 l1.6,1 h1 l2,-2 l1,0.2 l2,2" stroke="#109020" stroke-width="1.2" fill="none"/></g>
<polygon points="600.3,2.8 600.3,14 603,11.6 605.3,16.9 607.4,16 605.1,10.9 608.7,10.7" fill="#505050"/>
<path d="M632.4,2.6 V17.8 M625,10.3 H640" stroke="#585858" stroke-width="1.1" fill="none"/>
<rect x="631.6" y="9.5" width="1.6" height="1.6" fill="#f0f0f0"/>
<path d="M666.4,4 V17" stroke="#585858" stroke-width="1.2"/>
<path d="M689,10.3 H701" stroke="#585858" stroke-width="1.2"/>
<path d="M716.8,16.9 L728.7,5" stroke="#585858" stroke-width="1.2"/>
<g stroke="#505050" stroke-width="1" fill="none"><path d="M742.4,11.9 L756.6,3.3 M743.4,14.5 L757.4,6 M745,16.7 L756,10 M749.2,5.4 V15.6 M754.6,1.9 V11.2"/></g>
<text x="753.6" y="18.8" style="font-family:'Liberation Sans',sans-serif;font-size:6.4px;font-weight:bold;fill:#404040">E</text>
<g stroke="#585858" stroke-width="0.9" stroke-dasharray="1 1" fill="none"><path d="M772,3.6 H785 M772,6.7 H785 M772,10.3 H785 M772,14.2 H780.5"/></g>
<text x="781.8" y="18.8" style="font-family:'Liberation Sans',sans-serif;font-size:6.4px;font-weight:bold;fill:#404040">F</text>
<text x="802.8" y="14.7" textLength="7.8" lengthAdjust="spacingAndGlyphs" style="font-family:'Liberation Sans',sans-serif;font-size:11.8px;fill:#585858;stroke:#585858;stroke-width:0.25">A</text>
<rect x="829.3" y="4.6" width="11" height="11.8" fill="none" stroke="#505050" stroke-width="1" stroke-dasharray="1 1"/>
<rect x="828.2" y="3.6" width="2" height="1" fill="#505050"/>
<path d="M831,7.8 H838.8 M834.9,7.8 V14.8" stroke="#505050" stroke-width="1.25" fill="none"/>
<polygon points="859.7,3.9 863.5,7.6 861.2,7.6 861.2,9.3 858.2,9.3 858.2,7.6 855.9,7.6" fill="#505050"/>
<path d="M858,12 L860.3,13.9 L863.9,9.3" stroke="#505050" stroke-width="1.3" fill="none"/>
<polygon points="867,17 870.8,13.3 868.5,13.3 868.5,11.6 865.5,11.6 865.5,13.3 863.2,13.3" fill="#505050"/>
<text x="903.1" y="13.7" class="tf" textLength="12.9" lengthAdjust="spacingAndGlyphs">M1</text>
<text x="931.1" y="13.7" class="tf" textLength="12.9" lengthAdjust="spacingAndGlyphs">M5</text>
<text x="957.3" y="13.7" class="tf" textLength="18.0" lengthAdjust="spacingAndGlyphs">M15</text>
<text x="985.1" y="13.7" class="tf" textLength="18.0" lengthAdjust="spacingAndGlyphs">M30</text>
<text x="1016.2" y="13.7" class="tf" textLength="11.9" lengthAdjust="spacingAndGlyphs">H1</text>
<text x="1043.2" y="13.7" class="tf" textLength="11.9" lengthAdjust="spacingAndGlyphs">H4</text>
<text x="1072.0" y="13.7" class="tf" textLength="11.9" lengthAdjust="spacingAndGlyphs">D1</text>
<text x="1100.0" y="13.7" class="tf" textLength="14.3" lengthAdjust="spacingAndGlyphs">W1</text>
<text x="1126.3" y="13.7" class="tf" textLength="14.9" lengthAdjust="spacingAndGlyphs">MN</text>
<path d="M1616.7,10.8 L1611.9,15" stroke="#2a5ccc" stroke-width="2.3" stroke-linecap="round"/>
<circle cx="1619.8" cy="7.4" r="3.9" fill="#f4f8ff" stroke="#2a5ccc" stroke-width="1.2"/>
<path d="M1636.4,12 c0,-3.4 3,-5 6,-5 c3.4,0 6,1.8 6,4.8 c0,3 -2.8,4.4 -6,4.4 l-2.2,2.2 l-0.2,-2.6 c-2,-0.6 -3.6,-1.8 -3.6,-3.8 z" fill="#e4e8f0" stroke="#b4b8c0" stroke-width="0.8"/>
<circle cx="1650.3" cy="7.4" r="8.3" fill="url(#gb)"/>
<text x="1647" y="12" style="font-family:'Liberation Sans',sans-serif;font-size:12.5px;fill:#fff">1</text>
</svg></body></html>
